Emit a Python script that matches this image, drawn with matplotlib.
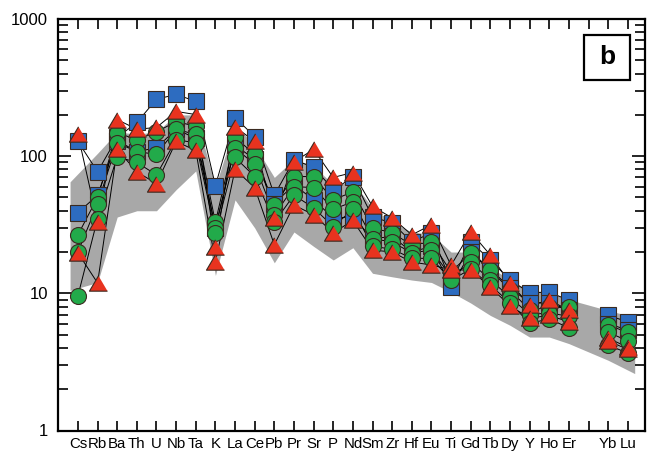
import numpy as np
import matplotlib.pyplot as plt
from matplotlib.patches import Rectangle

plt.rcParams['font.family'] = ['Liberation Sans', 'DejaVu Sans']

nan = np.nan

# elements along the x axis (Tm slot kept empty)
elements = ["Cs", "Rb", "Ba", "Th", "U", "Nb", "Ta", "K", "La", "Ce", "Pb", "Pr", "Sr", "P",
            "Nd", "Sm", "Zr", "Hf", "Eu", "Ti", "Gd", "Tb", "Dy", "Y", "Ho", "Er", "Tm", "Yb", "Lu"]
tick_labels = [e if e != "Tm" else "" for e in elements]

# grey field (upper / lower envelope)
band_hi = [65, 105, 150, 145, 150, 200, 200, 60, 170, 120, 70, 95, 85, 62, 65, 42, 33, 28, 27,
           20, 20, 15.5, 12.5, 10.5, 10.2, 9, nan, 7.5, 6.7]
band_lo = [10.5, 12, 36, 40, 40, 57, 78, 13.5, 48, 30, 16.7, 28, 22, 17.5, 21.5, 14, 13.2, 12.5, 12,
           10.2, 8.5, 6.9, 5.85, 4.8, 4.8, 4.3, nan, 3.25, 2.6]

# samples
blue_1 = [128, 77, 137, 176, 260, 282, 251, 61, 191, 139, 52, 94, 83, 57, 70, 36, 32.6, 23.7, 27.6,
          12, 23.7, 17.5, 12.5, 10.1, 10.2, 8.9, nan, 6.9, 6.2]
blue_2 = [38.7, 52, 130, 108, 115, 157, 135, 30, 120, 95, 45, 62, 48, 35.5, 36, 25, 26, 20, 22,
          11.1, 20, 15, 11, 8.5, 8.5, 7.6, nan, 6.0, 5.4]

green_1 = [26.7, 50, 148, 132, 150, 179, 165, 33, 137, 103, 44, 71, 71, 48, 55, 30, 27.6, 22.5, 23.7,
           14.3, 19.7, 14.8, 10.6, 7.55, 7.9, 7.9, nan, 5.85, 5.2]
green_2 = [20, 45, 125, 108, 103, 157, 144, 30, 115, 87, 37, 60, 59, 41, 46.5, 25, 23.7, 19.7, 20.7,
           13.2, 16.9, 12.5, 9.4, 7.0, 7.2, 6.8, nan, 5.2, 4.5]
green_3 = [9.6, 35, 99, 90, 73, 132, 125, 27.6, 98, 71, 33, 52, 42, 30.6, 41, 22, 21, 18, 18,
           12.5, 15, 11.5, 8.5, 6.05, 6.5, 5.6, nan, 4.2, 3.66]

red_1 = [144, 33, 185, 157, 162, 212, 201, 21.8, 164, 128, 35.5, 91, 112, 70, 76, 43, 35.5, 26.7, 31.6,
         16, 28, 19, 11.9, 8.2, 8.9, 7.55, nan, 4.7, 4.05]
red_2 = [19.7, 11.9, 112, 77, 63, 128, 110, 16.9, 80, 59, 22.6, 44, 37.4, 27.6, 34, 20.7, 20, 16.9, 16.1,
         14.8, 14.8, 11.1, 8.1, 6.6, 6.9, 6.2, nan, 4.5, 3.9]

x = np.arange(len(elements))

fig = plt.figure(figsize=(6.47, 4.54), dpi=100)
ax = fig.add_axes([57.7 / 647, 1 - 430.5 / 454, (645.5 - 57.7) / 647, (430.5 - 19) / 454])

# grey field, slightly wider than the first / last element
hi = np.array(band_hi, dtype=float)
lo = np.array(band_lo, dtype=float)
ok = ~np.isnan(hi)
xb = x[ok].astype(float)
xb[0] -= 0.4
xb[-1] += 0.35
ax.fill_between(xb, lo[ok], hi[ok], color='#a8a8a8', lw=0, zorder=1)

tri = [(0, 0.85), (-1, -0.85), (1, -0.85)]
groups = [
    ([blue_1, blue_2], 's', '#2d6cc0', 11.5, 3),
    ([green_1, green_2, green_3], 'o', '#22aa4a', 11.5, 4),
    ([red_1, red_2], tri, '#e8331f', 13, 5),
]
for samples, mk, col, ms, z in groups:
    for s in samples:
        ax.plot(x, s, color='black', lw=0.7, zorder=2)
        ax.plot(x, s, ls='none', marker=mk, ms=ms, mfc=col, mec='#3a2a20', mew=0.8, zorder=z)

ax.set_yscale('log')
ax.set_ylim(1, 1000)
ax.set_xlim(-1.03, 28.9)

ax.set_xticks(x)
ax.set_xticklabels(tick_labels)
ax.set_yticks([1, 10, 100, 1000])
ax.set_yticklabels(["1", "10", "100", "1000"])
ax.minorticks_on()
ax.xaxis.set_minor_locator(plt.NullLocator())
ax.yaxis.set_minor_formatter(plt.NullFormatter())

ax.tick_params(axis='x', which='major', direction='in', top=True, length=7, width=1.2,
               labelsize=10.8, pad=5)
ax.tick_params(axis='y', which='major', direction='in', right=True, length=9.5, width=1.2,
               labelsize=12, pad=7)
ax.tick_params(axis='y', which='minor', direction='in', right=True, length=7, width=1.2)
for sp in ax.spines.values():
    sp.set_linewidth(1.6)

# panel letter
ax.add_patch(Rectangle((0.895, 0.852), 0.079, 0.109, transform=ax.transAxes,
                       fc='white', ec='black', lw=1.6, zorder=6))
ax.text(0.9345, 0.9065, "b", transform=ax.transAxes, ha='center', va='center',
        fontsize=19, fontweight='bold', zorder=7)

fig.savefig("out.png", dpi=100)
